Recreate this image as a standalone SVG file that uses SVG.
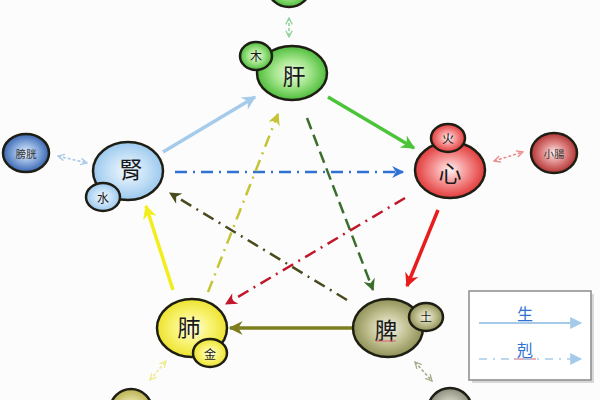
<svg xmlns="http://www.w3.org/2000/svg" width="600" height="400" viewBox="0 0 600 400">
<defs>
<style>
.ring{stroke:#1e1e14;stroke-width:2.5}
.t{font-family:"Noto Sans CJK TC","Noto Sans CJK JP",sans-serif;text-anchor:middle;dominant-baseline:central;fill:#1a1a1a}
.big{font-size:23px}
.sm{font-size:12px}
.org{font-size:10.5px;fill:#333}
.c{fill:none}
.d{fill:none;stroke-width:2.5}
.s{fill:none;stroke-width:3.5}
</style>
<radialGradient id="gGreen" cx="50%" cy="50%" r="55%"><stop offset="0" stop-color="#effbe8"/><stop offset="0.45" stop-color="#a6e68e"/><stop offset="1" stop-color="#3cb52a"/></radialGradient>
<radialGradient id="gRed" cx="50%" cy="50%" r="55%"><stop offset="0" stop-color="#fff2f2"/><stop offset="0.45" stop-color="#f59090"/><stop offset="1" stop-color="#dd2a2a"/></radialGradient>
<radialGradient id="gBlue" cx="50%" cy="50%" r="55%"><stop offset="0" stop-color="#f2f9ff"/><stop offset="0.5" stop-color="#c4e0f6"/><stop offset="1" stop-color="#92c3ec"/></radialGradient>
<radialGradient id="gYellow" cx="50%" cy="50%" r="55%"><stop offset="0" stop-color="#fffde8"/><stop offset="0.45" stop-color="#faf47a"/><stop offset="1" stop-color="#eae020"/></radialGradient>
<radialGradient id="gOlive" cx="50%" cy="50%" r="55%"><stop offset="0" stop-color="#f6f6ea"/><stop offset="0.45" stop-color="#c6c69a"/><stop offset="1" stop-color="#86864a"/></radialGradient>
<radialGradient id="gDBlue" cx="50%" cy="50%" r="55%"><stop offset="0" stop-color="#e8f0fb"/><stop offset="0.45" stop-color="#8fb0e0"/><stop offset="1" stop-color="#2a58a8"/></radialGradient>
<radialGradient id="gDRed" cx="50%" cy="50%" r="55%"><stop offset="0" stop-color="#fdeeee"/><stop offset="0.45" stop-color="#e08888"/><stop offset="1" stop-color="#a82424"/></radialGradient>
<radialGradient id="gGray" cx="50%" cy="50%" r="55%"><stop offset="0" stop-color="#f4f4ee"/><stop offset="0.5" stop-color="#c0c0b0"/><stop offset="1" stop-color="#808070"/></radialGradient>
<radialGradient id="gKhaki" cx="50%" cy="50%" r="55%"><stop offset="0" stop-color="#f8f6e4"/><stop offset="0.5" stop-color="#dcd690"/><stop offset="1" stop-color="#b0a840"/></radialGradient>
<marker id="aBlue" viewBox="0 0 10 10" refX="9" refY="5" markerUnits="userSpaceOnUse" markerWidth="16" markerHeight="14" orient="auto"><path d="M0,0 L10,5 L0,10 L3,5 z" fill="#a6cbea"/></marker>
<marker id="aGreen" viewBox="0 0 10 10" refX="9" refY="5" markerUnits="userSpaceOnUse" markerWidth="16" markerHeight="14" orient="auto"><path d="M0,0 L10,5 L0,10 L3,5 z" fill="#4cc43a"/></marker>
<marker id="aRed" viewBox="0 0 10 10" refX="9" refY="5" markerUnits="userSpaceOnUse" markerWidth="16" markerHeight="14" orient="auto"><path d="M0,0 L10,5 L0,10 L3,5 z" fill="#e81c1c"/></marker>
<marker id="aOlive" viewBox="0 0 10 10" refX="9" refY="5" markerUnits="userSpaceOnUse" markerWidth="16" markerHeight="14" orient="auto"><path d="M0,0 L10,5 L0,10 L3,5 z" fill="#7e7e1e"/></marker>
<marker id="aYellow" viewBox="0 0 10 10" refX="9" refY="5" markerUnits="userSpaceOnUse" markerWidth="16" markerHeight="14" orient="auto"><path d="M0,0 L10,5 L0,10 L3,5 z" fill="#f2ee1e"/></marker>
<marker id="dBlue" viewBox="0 0 10 10" refX="9" refY="5" markerUnits="userSpaceOnUse" markerWidth="14" markerHeight="12" orient="auto"><path d="M0,0 L10,5 L0,10 L3,5 z" fill="#2f72d2"/></marker>
<marker id="dGreen" viewBox="0 0 10 10" refX="9" refY="5" markerUnits="userSpaceOnUse" markerWidth="14" markerHeight="12" orient="auto"><path d="M0,0 L10,5 L0,10 L3,5 z" fill="#3a6e2c"/></marker>
<marker id="dRed" viewBox="0 0 10 10" refX="9" refY="5" markerUnits="userSpaceOnUse" markerWidth="14" markerHeight="12" orient="auto"><path d="M0,0 L10,5 L0,10 L3,5 z" fill="#c0182a"/></marker>
<marker id="dOlive" viewBox="0 0 10 10" refX="9" refY="5" markerUnits="userSpaceOnUse" markerWidth="14" markerHeight="12" orient="auto"><path d="M0,0 L10,5 L0,10 L3,5 z" fill="#4a4a1c"/></marker>
<marker id="dYellow" viewBox="0 0 10 10" refX="9" refY="5" markerUnits="userSpaceOnUse" markerWidth="14" markerHeight="12" orient="auto"><path d="M0,0 L10,5 L0,10 L3,5 z" fill="#c4c434"/></marker>
<marker id="oGreen" viewBox="0 0 10 10" refX="9" refY="5" markerUnits="userSpaceOnUse" markerWidth="8" markerHeight="8" orient="auto-start-reverse"><path d="M1,1 L9,5 L1,9" fill="none" stroke="#8ed49a" stroke-width="1.6"/></marker>
<marker id="oBlue" viewBox="0 0 10 10" refX="9" refY="5" markerUnits="userSpaceOnUse" markerWidth="8" markerHeight="8" orient="auto-start-reverse"><path d="M1,1 L9,5 L1,9" fill="none" stroke="#a8c8e6" stroke-width="1.6"/></marker>
<marker id="oRed" viewBox="0 0 10 10" refX="9" refY="5" markerUnits="userSpaceOnUse" markerWidth="8" markerHeight="8" orient="auto-start-reverse"><path d="M1,1 L9,5 L1,9" fill="none" stroke="#ec8a8a" stroke-width="1.6"/></marker>
<marker id="oYellow" viewBox="0 0 10 10" refX="9" refY="5" markerUnits="userSpaceOnUse" markerWidth="8" markerHeight="8" orient="auto-start-reverse"><path d="M1,1 L9,5 L1,9" fill="none" stroke="#eeea90" stroke-width="1.6"/></marker>
<marker id="oOlive" viewBox="0 0 10 10" refX="9" refY="5" markerUnits="userSpaceOnUse" markerWidth="8" markerHeight="8" orient="auto-start-reverse"><path d="M1,1 L9,5 L1,9" fill="none" stroke="#a8a88a" stroke-width="1.6"/></marker>
<marker id="lBlue" viewBox="0 0 10 10" refX="9" refY="5" markerUnits="userSpaceOnUse" markerWidth="14" markerHeight="12" orient="auto"><path d="M0,0 L10,5 L0,10 z" fill="#a6cbea"/></marker>
</defs>
<rect width="600" height="400" fill="#fcfcfc"/>

<g id="connectors">
<line class="c" x1="289" y1="18" x2="289" y2="37" stroke="#8ed49a" stroke-width="1.6" stroke-dasharray="3 2" marker-start="url(#oGreen)" marker-end="url(#oGreen)"/>
<line class="c" x1="58" y1="156" x2="87" y2="163" stroke="#a8c8e6" stroke-width="1.6" stroke-dasharray="3 2" marker-start="url(#oBlue)" marker-end="url(#oBlue)"/>
<line class="c" x1="494" y1="161" x2="523" y2="152" stroke="#ec8a8a" stroke-width="1.6" stroke-dasharray="3 2" marker-start="url(#oRed)" marker-end="url(#oRed)"/>
<line class="c" x1="150" y1="380" x2="166" y2="361" stroke="#eeea90" stroke-width="1.6" stroke-dasharray="3 2" marker-start="url(#oYellow)" marker-end="url(#oYellow)"/>
<line class="c" x1="415" y1="362" x2="432" y2="381" stroke="#a8a88a" stroke-width="1.6" stroke-dasharray="3 2" marker-start="url(#oOlive)" marker-end="url(#oOlive)"/>

<line class="s" x1="163" y1="152" x2="255" y2="97" stroke="#a6cbea" marker-end="url(#aBlue)"/>
<line class="s" x1="328" y1="97" x2="414" y2="148" stroke="#4cc43a" marker-end="url(#aGreen)"/>
<line class="s" x1="438" y1="210" x2="407" y2="286" stroke="#e81c1c" marker-end="url(#aRed)"/>
<line class="s" x1="356" y1="328" x2="230" y2="328" stroke="#7e7e1e" marker-end="url(#aOlive)"/>
<line class="s" x1="173" y1="290" x2="146" y2="206" stroke="#f2ee1e" marker-end="url(#aYellow)"/>

<line class="d" x1="175" y1="172" x2="403" y2="172" stroke="#2f72d2" stroke-dasharray="12 6 2 6" marker-end="url(#dBlue)"/>
<line class="d" x1="307" y1="118" x2="373" y2="290" stroke="#3a6e2c" stroke-dasharray="12 6" marker-end="url(#dGreen)"/>
<line class="d" x1="405" y1="198" x2="226" y2="304" stroke="#c0182a" stroke-dasharray="12 6 2 6" marker-end="url(#dRed)"/>
<line class="d" x1="347" y1="300" x2="170" y2="193" stroke="#4a4a1c" stroke-dasharray="12 6 2 6" marker-end="url(#dOlive)"/>
<line class="d" x1="208" y1="292" x2="278" y2="114" stroke="#c4c434" stroke-dasharray="12 6 2 6" marker-end="url(#dYellow)"/>
</g>

<g id="node-top">
<ellipse class="ring" cx="289" cy="-12" rx="21" ry="19" fill="url(#gGreen)"/>
</g>

<g id="node-gan">
<ellipse class="ring" cx="292" cy="73" rx="35" ry="27" fill="url(#gGreen)"/>
<ellipse class="ring" cx="256" cy="56" rx="16" ry="14" fill="url(#gGreen)"/>
<text class="t big" x="294" y="75">肝</text>
<text class="t sm" x="256" y="55">木</text>
</g>

<g id="node-xin">
<ellipse class="ring" cx="450" cy="170" rx="35" ry="28" fill="url(#gRed)"/>
<ellipse class="ring" cx="448" cy="138" rx="17" ry="14" fill="url(#gRed)"/>
<text class="t big" x="450" y="172">心</text>
<text class="t sm" x="448" y="137">火</text>
</g>

<g id="node-shen">
<ellipse class="ring" cx="128" cy="171" rx="35" ry="29" fill="url(#gBlue)"/>
<ellipse class="ring" cx="103" cy="197" rx="17" ry="14" fill="url(#gBlue)"/>
<text class="t big" x="131" y="168">腎</text>
<text class="t sm" x="103" y="197">水</text>
</g>

<g id="node-fei">
<ellipse class="ring" cx="192" cy="328" rx="35" ry="29" fill="url(#gYellow)"/>
<ellipse class="ring" cx="210" cy="353" rx="17" ry="14" fill="url(#gYellow)"/>
<text class="t big" x="189" y="326">肺</text>
<text class="t sm" x="210" y="353">金</text>
</g>

<g id="node-pi">
<ellipse class="ring" cx="388" cy="328" rx="35" ry="29" fill="url(#gOlive)"/>
<ellipse class="ring" cx="426" cy="317" rx="17" ry="14" fill="url(#gOlive)"/>
<text class="t big" x="386" y="329">脾</text>
<line x1="376" y1="341" x2="396" y2="341" stroke="#e05a6a" stroke-width="1"/>
<text class="t sm" x="426" y="316">土</text>
</g>

<g id="node-pangguang">
<ellipse class="ring" cx="26" cy="153" rx="23" ry="19" fill="url(#gDBlue)"/>
<text class="t org" x="26" y="153">膀胱</text>
</g>

<g id="node-xiaochang">
<ellipse class="ring" cx="554" cy="153" rx="23" ry="20" fill="url(#gDRed)"/>
<text class="t org" x="554" y="153">小腸</text>
</g>

<g id="node-bl">
<ellipse class="ring" cx="131" cy="410" rx="21" ry="21" fill="url(#gKhaki)"/>
</g>

<g id="node-br">
<ellipse class="ring" cx="450" cy="410" rx="22" ry="22" fill="url(#gGray)"/>
</g>

<g id="legend">
<rect x="472" y="294" width="122" height="89" fill="#d8d8d8"/>
<rect x="469" y="291" width="122" height="89" fill="#ffffff" stroke="#8a8a8a" stroke-width="1.5"/>
<text class="t" x="525" y="313" style="font-size:16px;fill:#2f72d2">生</text>
<line x1="479" y1="323" x2="581" y2="323" stroke="#a6cbea" stroke-width="2" marker-end="url(#lBlue)"/>
<text class="t" x="525" y="349" style="font-size:16px;fill:#2f72d2">剋</text>
<line x1="514" y1="359" x2="536" y2="359" stroke="#e05a6a" stroke-width="1"/>
<line x1="479" y1="359" x2="581" y2="359" stroke="#a6cbea" stroke-width="1.5" stroke-dasharray="8 6 2 6" marker-end="url(#lBlue)"/>
</g>
</svg>
